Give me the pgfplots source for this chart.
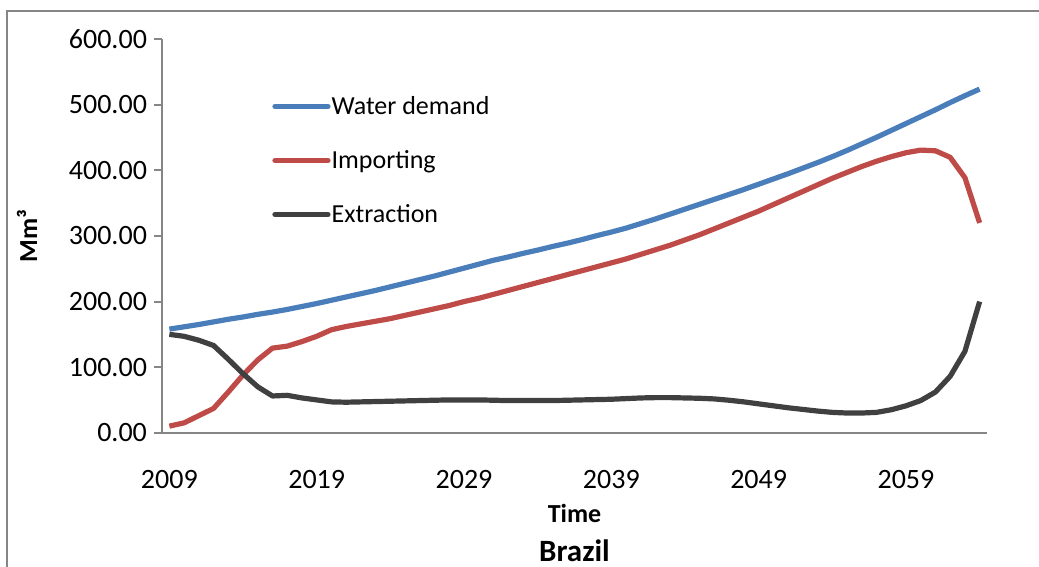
\documentclass[border=0pt]{standalone}
\usepackage{fontspec}
\setmainfont{Carlito}
\usepackage{pgfplots}
\usepackage{pgfplotstable}
\pgfplotsset{compat=1.18}

\definecolor{demand}{HTML}{4A7EBB}
\definecolor{importc}{HTML}{BE4B48}
\definecolor{extract}{HTML}{404040}
\definecolor{axgray}{HTML}{868686}

% Brazil, Mm3 per year
\pgfplotstableread{
year demand importing extraction
2009 158   10  150
2010 161.5 15  147
2011 165   26  141
2012 169   37  133
2013 173   62  112
2014 176.5 88  90
2015 180.5 111 70
2016 184   129 56
2017 188   132 57
2018 192.5 139 53
2019 197   147 50
2020 202   157 47
2021 207   162 46.5
2022 212   166 47
2023 217   170 47.5
2024 222.5 174 48
2025 228   179 48.5
2026 233.5 184 49
2027 239   189 49.5
2028 245   194 50
2029 251   200 50
2030 257   205 50
2031 263   211 49.5
2032 268   217 49
2033 273.5 223 49
2034 278.5 229 49
2035 284   235 49
2036 289   241 49.5
2037 294.5 247 50
2038 300.5 253 50.5
2039 306   259 51
2040 312   265 52
2041 319   272 53
2042 326   279 53.5
2043 333.5 286 53.5
2044 341   294 53
2045 348.5 302 52.5
2046 356   311 51.5
2047 363.5 320 49.5
2048 371   329 47
2049 379   338 44
2050 387   348 41
2051 395   358 38
2052 403.5 368 35.5
2053 412   378 33
2054 421   388 31
2055 430.5 397 30
2056 440.5 406 30
2057 450.5 414 31
2058 461   421 35
2059 471.5 427 41
2060 482   431 49
2061 492.5 430 62
2062 503.5 420 86
2063 514   389 124
2064 524   320 200
}\brazil

\begin{document}
\begin{tikzpicture}[x=0.5pt,y=0.5pt]
\useasboundingbox (0,0) rectangle (1039,567);
\draw[axgray, line width=1pt] (7,0) -- (7,556) -- (1039,556);
\begin{axis}[
  at={(81pt,67.15pt)}, anchor=south west,
  width=412.5pt, height=196.7pt, scale only axis,
  xmin=2008.5, xmax=2064.5, ymin=0, ymax=600,
  axis lines=left, axis line style={-, axgray, line width=1pt},
  xtick={2009,2019,...,2059}, ytick={0,100,...,600},
  xtick style={draw=none},
  ytick style={axgray, line width=1pt},
  tick align=outside, major tick length=4pt,
  tick label style={font=\fontsize{14}{16}\selectfont},
  /pgf/number format/assume math mode=true,
  xticklabel style={/pgf/number format/1000 sep={}, yshift=-11.5pt},
  yticklabel style={/pgf/number format/.cd, fixed, fixed zerofill, precision=2},
  xlabel={\textbf{Time}},
  xlabel style={at={(0.5,-0.2288)}, anchor=base, font=\fontsize{13}{15}\selectfont},
  ylabel={\textbf{Mm³}},
  ylabel style={at={(-0.1636,0.5)}, anchor=center, rotate=0, font=\fontsize{13}{15}\selectfont},
  title={\textbf{Brazil}},
  title style={at={(0.5,-0.359)}, anchor=base, font=\fontsize{15.5}{18}\selectfont},
  legend style={at={(0.1333,0.867)}, anchor=north west, draw=none, fill=none,
    font=\fontsize{13}{15}\selectfont, row sep=12.5pt, inner sep=0pt,
    nodes={inner xsep=0.5pt, inner ysep=2pt}},
  legend cell align=left,
  legend image code/.code={\draw[#1, line cap=round] (0pt,0pt) -- (26.5pt,0pt);},
  every axis plot/.append style={line width=2.6pt, line join=round},
]
\addplot[demand] table[x=year, y=demand] {\brazil};
\addplot[importc] table[x=year, y=importing] {\brazil};
\addplot[extract] table[x=year, y=extraction] {\brazil};
\legend{Water demand, Importing, Extraction}
\end{axis}
\end{tikzpicture}
\end{document}
